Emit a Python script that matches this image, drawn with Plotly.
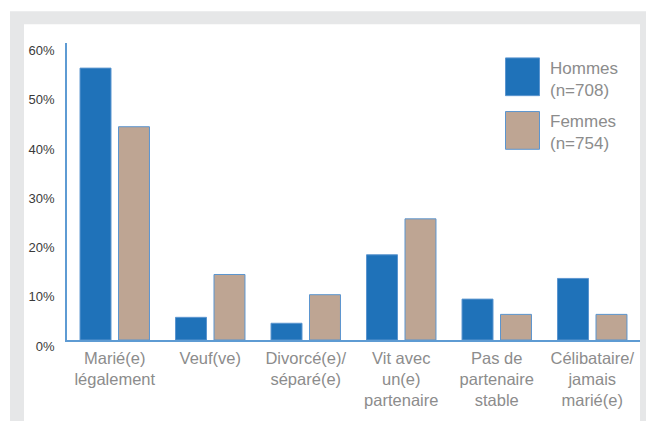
import plotly.graph_objects as go

categories = ["Marié(e)<br>légalement", "Veuf(ve)", "Divorcé(e)/<br>séparé(e)",
              "Vit avec<br>un(e)<br>partenaire", "Pas de<br>partenaire<br>stable",
              "Célibataire/<br>jamais<br>marié(e)"]
hommes = [55.2, 4.6, 3.4, 17.3, 8.3, 12.5]
femmes = [43.3, 13.3, 9.2, 24.6, 5.2, 5.2]
legend_labels = ["Hommes<br>(n=708)", "Femmes<br>(n=754)"]
tick_vals = [0, 10, 20, 30, 40, 50, 60]
tick_text = ["0%", "10%", "20%", "30%", "40%", "50%", "60%"]

# page offset of the figure (default body margin of the html page)
OX, OY = 8, 8
PAGE_W, PAGE_H = 654, 421
W, H = PAGE_W - OX, PAGE_H - OY
# plot area in page pixels
X0, X1, Y0, Y1 = 67, 640, 43, 342
L, R, T, B = X0 - OX, PAGE_W - X1, Y0 - OY, PAGE_H - Y1
PW, PH = X1 - X0, Y1 - Y0

def px(x):
    return (x - X0) / PW

def py(y):
    return (Y1 - y) / PH

C_H = "#1f72b9"
C_F = "#bea593"
C_EDGE = "#5b95cf"
C_AX = "#5e9bd3"
FONT = "Liberation Sans, Arial, sans-serif"

fig = go.Figure()
fig.add_trace(go.Bar(x=categories, y=hommes, name="Hommes",
                     marker=dict(color=C_H, line=dict(color=C_EDGE, width=1)), showlegend=False))
fig.add_trace(go.Bar(x=categories, y=femmes, name="Femmes",
                     marker=dict(color=C_F, line=dict(color=C_EDGE, width=1)), showlegend=False))

shapes = [
    dict(type="rect", xref="paper", yref="paper", x0=px(10), x1=px(670), y0=py(440), y1=py(11),
         fillcolor="#e6e7e8", line=dict(width=0), layer="below"),
    dict(type="rect", xref="paper", yref="paper", x0=px(24), x1=px(640), y0=py(450), y1=py(24),
         fillcolor="white", line=dict(width=0), layer="below"),
]
annotations = []
legend_colors = [C_H, C_F]
legend_tops = [58, 112]
for lab, col, top in zip(legend_labels, legend_colors, legend_tops):
    shapes.append(dict(type="rect", xref="paper", yref="paper", x0=px(505.5), x1=px(539.5),
                       y0=py(top + 38), y1=py(top), fillcolor=col, line=dict(color=C_EDGE, width=1)))
    annotations.append(dict(xref="paper", yref="paper", x=px(548), y=py(top + 21.5), text=lab,
                            showarrow=False, xanchor="left", yanchor="middle", align="left",
                            font=dict(size=17, color="#8c8c8c", family=FONT)))

fig.update_layout(
    width=W, height=H,
    margin=dict(l=L, r=R, t=T, b=B, pad=0),
    paper_bgcolor="white", plot_bgcolor="rgba(0,0,0,0)",
    barmode="group", bargap=0.194, bargroupgap=0.195,
    shapes=shapes, annotations=annotations,
    font=dict(family=FONT),
    xaxis=dict(showline=True, linecolor=C_AX, linewidth=1.5, showgrid=False, ticks="",
               tickfont=dict(size=16.5, color="#8c8c8c"), ticklabelstandoff=2, fixedrange=True),
    yaxis=dict(range=[0, 60.3], showline=True, linecolor=C_AX, linewidth=1.5, showgrid=False,
               zeroline=False, tickvals=tick_vals, ticktext=tick_text, ticks="",
               ticklabelshift=6, ticklabelstandoff=8,
               tickfont=dict(size=13, color="#3a3a3a"), fixedrange=True),
)

fig.write_html("out.html")
